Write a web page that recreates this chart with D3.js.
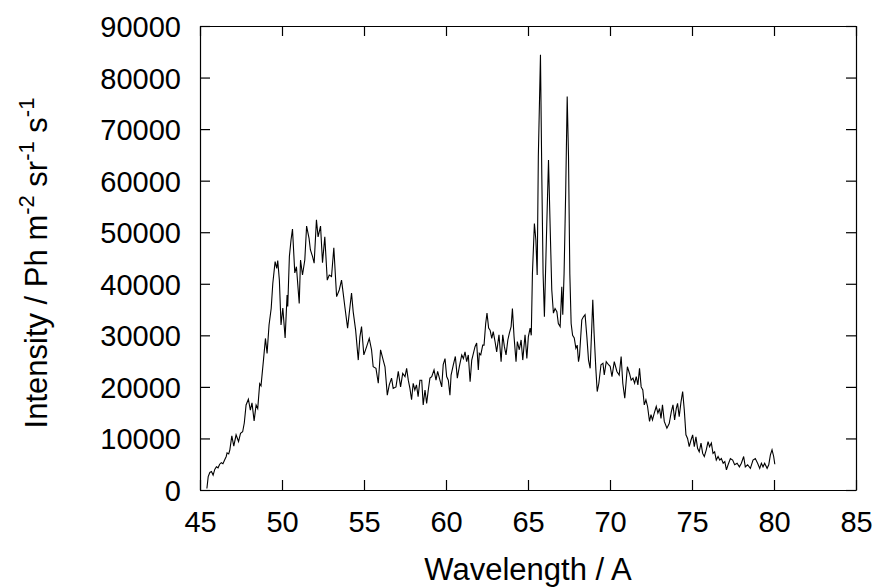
<!DOCTYPE html>
<html>
<head>
<meta charset="utf-8">
<script src="https://cdn.jsdelivr.net/npm/d3@7"></script>
<style>
  body { margin: 0; background: #fff; }
  text { font-family: "Liberation Sans", Arial, Helvetica, sans-serif; fill: #000; }
</style>
</head>
<body>
<div class="chart-container"></div>
<script>
//! DATA
const xTicks = [45, 50, 55, 60, 65, 70, 75, 80, 85]
const yTicks = [0, 10000, 20000, 30000, 40000, 50000, 60000, 70000, 80000, 90000]

const wavelength = [
  45.42, 45.50, 45.60, 45.70, 45.80, 45.90, 46.00, 46.10, 46.20, 46.30,
  46.40, 46.50, 46.60, 46.65, 46.75, 46.82, 46.94, 47.06, 47.20, 47.35,
  47.47, 47.60, 47.70, 47.81, 47.95, 48.07, 48.17, 48.30, 48.42, 48.52,
  48.64, 48.72, 48.87, 48.99, 49.09, 49.21, 49.34, 49.44, 49.58, 49.68,
  49.74, 49.84, 49.94, 50.05, 50.19, 50.31, 50.35, 50.45, 50.55, 50.64,
  50.78, 50.88, 51.05, 51.13, 51.25, 51.39, 51.50, 51.65, 51.73, 51.86,
  51.96, 52.10, 52.20, 52.35, 52.47, 52.61, 52.76, 52.88, 53.02, 53.16,
  53.33, 53.49, 53.63, 53.73, 53.83, 54.00, 54.10, 54.24, 54.34, 54.49,
  54.65, 54.75, 54.85, 54.99, 55.16, 55.32, 55.46, 55.56, 55.73, 55.87,
  56.01, 56.17, 56.28, 56.42, 56.54, 56.68, 56.78, 56.95, 57.09, 57.23,
  57.36, 57.50, 57.60, 57.70, 57.80, 57.90, 58.00, 58.10, 58.20, 58.30,
  58.41, 58.52, 58.61, 58.72, 58.82, 58.92, 59.02, 59.13, 59.27, 59.39,
  59.49, 59.63, 59.74, 59.83, 59.94, 60.04, 60.14, 60.24, 60.31, 60.45,
  60.57, 60.69, 60.81, 60.96, 61.06, 61.16, 61.26, 61.36, 61.47, 61.57,
  61.67, 61.77, 61.87, 61.97, 62.03, 62.12, 62.24, 62.32, 62.42, 62.50,
  62.60, 62.69, 62.79, 62.88, 62.99, 63.09, 63.23, 63.36, 63.46, 63.56,
  63.66, 63.77, 63.86, 63.97, 64.05, 64.15, 64.27, 64.35, 64.47, 64.58,
  64.68, 64.82, 64.93, 65.02, 65.13, 65.20, 65.27, 65.39, 65.48, 65.56,
  65.63, 65.76, 65.84, 65.92, 66.00, 66.12, 66.25, 66.35, 66.45, 66.55,
  66.65, 66.76, 66.85, 66.96, 67.06, 67.12, 67.20, 67.30, 67.39, 67.47,
  67.55, 67.63, 67.72, 67.82, 67.92, 68.00, 68.08, 68.14, 68.28, 68.38,
  68.48, 68.59, 68.69, 68.79, 68.89, 68.95, 69.03, 69.14, 69.22, 69.32,
  69.45, 69.57, 69.65, 69.77, 69.91, 70.01, 70.12, 70.26, 70.42, 70.56,
  70.68, 70.78, 70.90, 71.06, 71.19, 71.29, 71.40, 71.50, 71.60, 71.70,
  71.80, 71.90, 72.00, 72.09, 72.19, 72.29, 72.41, 72.50, 72.59, 72.70,
  72.82, 72.92, 73.02, 73.11, 73.20, 73.31, 73.47, 73.61, 73.74, 73.84,
  73.94, 74.04, 74.12, 74.22, 74.33, 74.43, 74.53, 74.63, 74.73, 74.83,
  74.94, 75.04, 75.14, 75.24, 75.34, 75.44, 75.55, 75.65, 75.75, 75.87,
  75.98, 76.07, 76.18, 76.28, 76.38, 76.48, 76.59, 76.69, 76.79, 76.90,
  77.00, 77.10, 77.20, 77.34, 77.48, 77.60, 77.75, 77.89, 78.01, 78.15,
  78.25, 78.39, 78.56, 78.72, 78.86, 79.00, 79.13, 79.23, 79.33, 79.43,
  79.58, 79.68, 79.78, 79.88, 79.98, 80.05
]

const intensity = [
  300, 2600, 3400, 3600, 2900, 4000, 4500, 4300, 5000, 5300,
  5100, 5800, 6500, 7200, 7000, 7800, 10500, 8500, 10700, 9400,
  11000, 11300, 13000, 16500, 17600, 15500, 16900, 13400, 16500, 15800,
  20600, 20200, 25200, 29400, 26500, 32000, 35200, 40100, 44300, 43000,
  44500, 40700, 32000, 35300, 29500, 37800, 35600, 45300, 48500, 50600,
  42100, 43300, 36200, 44600, 41700, 44600, 51200, 48800, 46600, 45300,
  44000, 52400, 49100, 51200, 44100, 49100, 40700, 41700, 41400, 47000,
  37500, 38800, 40700, 38200, 35600, 31400, 34300, 38200, 34600, 31000,
  25200, 29700, 31700, 26200, 27800, 29400, 27200, 23900, 23600, 20700,
  27200, 25200, 23900, 18400, 20400, 21700, 19700, 20000, 23000, 20000,
  22600, 22000, 23600, 21300, 19700, 17500, 20700, 19400, 20400, 18100,
  21300, 21300, 16500, 19400, 16800, 19400, 21700, 22000, 23300, 21300,
  23000, 21300, 20000, 24300, 25500, 22000, 21300, 18400, 22300, 24300,
  25900, 21700, 23900, 26200, 25500, 26800, 24900, 26200, 21000, 25200,
  26500, 27800, 28500, 23300, 26500, 26200, 28100, 28100, 32300, 34300,
  31400, 31000, 29400, 30700, 28800, 26800, 30100, 24900, 30100, 27800,
  26200, 29100, 30400, 31700, 35200, 29700, 24900, 28800, 27200, 29100,
  25200, 30100, 25500, 29700, 31400, 30000, 42000, 51700, 48500, 41700,
  64700, 84400, 61400, 42000, 33600, 48500, 64000, 51100, 38800, 34300,
  35200, 34600, 32300, 31700, 39400, 34000, 42000, 58200, 76300, 64700,
  42000, 32300, 30000, 29500, 27500, 28100, 24900, 26000, 33000, 33600,
  34000, 29700, 25200, 23600, 31700, 36900, 30400, 23300, 19100, 20700,
  24300, 24600, 22300, 24900, 24300, 24000, 22000, 24900, 23000, 22300,
  25900, 20700, 17800, 23900, 22600, 21300, 21700, 20700, 22000, 20400,
  23600, 20000, 19400, 16500, 17500, 16200, 13300, 14600, 13600, 14900,
  16200, 14900, 15800, 13900, 16500, 13300, 12000, 12900, 15200, 16500,
  13600, 15800, 16800, 14200, 17100, 19100, 15500, 10700, 10000, 8400,
  9700, 10700, 8400, 10300, 8100, 7400, 9100, 7100, 6500, 7800,
  9400, 8400, 9100, 7100, 7400, 5800, 6500, 5800, 6100, 5200,
  5500, 3900, 4900, 6100, 5800, 4900, 5200, 4500, 5200, 6500,
  4500, 4900, 4200, 5800, 6100, 5200, 4200, 5200, 4500, 5200,
  4200, 4900, 6800, 7800, 6500, 5000
]

const dataset = wavelength.map((w, i) => ({ w: w, v: intensity[i] }))

//! CONSTS
const width = 881
const height = 587
const margin = { top: 26, right: 25, bottom: 97, left: 200 }
const tickFont = 29
const labelFont = 31
const supFont = 22

//! SVG
const svg =
  d3.select('.chart-container')
    .append('svg')
    .attr('width', width)
    .attr('height', height)

//! SCALES
const xScale =
  d3.scaleLinear()
    .domain([45, 85])
    .range([margin.left, width - margin.right])

const yScale =
  d3.scaleLinear()
    .domain([0, 90000])
    .range([height - margin.bottom, margin.top])

//! AXIS FORMAT (gnuplot style: ticks pointing in, mirrored on top / right)
const xAxis =
  d3.axisBottom(xScale)
    .tickValues(xTicks)
    .tickFormat(d3.format('d'))
    .tickSizeInner(-10)
    .tickSizeOuter(0)
    .tickPadding(21)

const yAxis =
  d3.axisLeft(yScale)
    .tickValues(yTicks)
    .tickFormat(d3.format('d'))
    .tickSizeInner(-10)
    .tickSizeOuter(0)
    .tickPadding(19)

const xAxisTop =
  d3.axisTop(xScale)
    .tickValues(xTicks)
    .tickFormat('')
    .tickSizeInner(-10)
    .tickSizeOuter(0)

const yAxisRight =
  d3.axisRight(yScale)
    .tickValues(yTicks)
    .tickFormat('')
    .tickSizeInner(-10)
    .tickSizeOuter(0)

//! AXIS CALLS
const styleAxis = g => {
  g.selectAll('path, line').attr('stroke', '#000').attr('stroke-width', 1.2)
  g.selectAll('text')
    .attr('font-size', tickFont)
    .attr('font-family', '"Liberation Sans", Arial, Helvetica, sans-serif')
    .attr('fill', '#000')
}

svg.append('g')
  .attr('transform', `translate(0,${height - margin.bottom})`)
  .call(xAxis)
  .call(styleAxis)

svg.append('g')
  .attr('transform', `translate(${margin.left},0)`)
  .call(yAxis)
  .call(styleAxis)
  .call(g => g.selectAll('text').attr('dy', '0.36em'))

svg.append('g')
  .attr('transform', `translate(0,${margin.top})`)
  .call(xAxisTop)
  .call(styleAxis)

svg.append('g')
  .attr('transform', `translate(${width - margin.right},0)`)
  .call(yAxisRight)
  .call(styleAxis)

//! LINE
const line =
  d3.line()
    .x(d => xScale(d.w))
    .y(d => yScale(d.v))

svg.append('path')
  .datum(dataset)
  .attr('fill', 'none')
  .attr('stroke', '#000')
  .attr('stroke-width', 1.1)
  .attr('d', line)

//! LABELS
svg.append('text')
  .attr('x', (margin.left + width - margin.right) / 2)
  .attr('y', 580)
  .attr('text-anchor', 'middle')
  .attr('font-size', labelFont)
  .text('Wavelength / A')

const yLabel = svg.append('text')
  .attr('transform', `translate(47,${(margin.top + height - margin.bottom) / 2 + 5}) rotate(-90)`)
  .attr('text-anchor', 'middle')
  .attr('font-size', labelFont)

yLabel.append('tspan').text('Intensity / Ph m')
yLabel.append('tspan').attr('font-size', supFont).attr('dy', -13).text('-2')
yLabel.append('tspan').attr('dy', 13).text(' sr')
yLabel.append('tspan').attr('font-size', supFont).attr('dy', -13).text('-1')
yLabel.append('tspan').attr('dy', 13).text(' s')
yLabel.append('tspan').attr('font-size', supFont).attr('dy', -13).text('-1')
</script>
</body>
</html>
